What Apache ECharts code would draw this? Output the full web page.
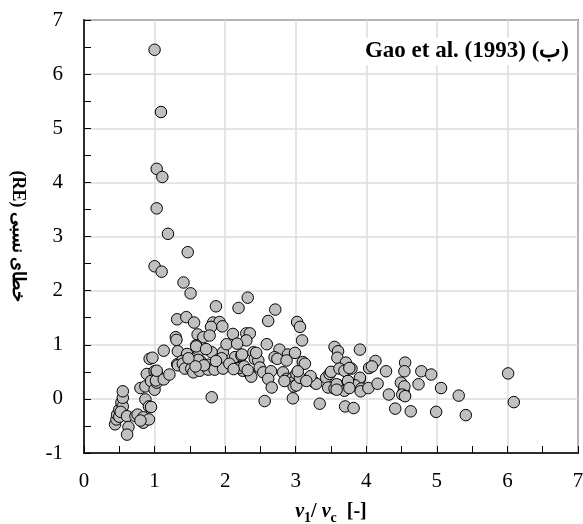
<!DOCTYPE html>
<html>
<head>
<meta charset="utf-8">
<script src="https://cdn.jsdelivr.net/npm/echarts@6/dist/echarts.min.js"></script>
<style>
  html, body { margin: 0; padding: 0; background: #fff; }
  #chart { width: 583px; height: 524px; }
</style>
</head>
<body>
<div id="chart"></div>
<script>
// v1/vc vs relative error, grouped by x range
const pointsBelow12 = [
  [0.44, -0.47], [0.46, -0.38], [0.47, -0.29], [0.50, -0.20], [0.50, -0.33], [0.53, -0.07],
  [0.55, -0.14], [0.55, 0.02], [0.55, 0.14], [0.52, -0.24], [0.61, -0.32], [0.63, -0.52],
  [0.61, -0.66], [0.73, -0.32], [0.76, -0.29], [0.84, -0.34], [0.84, -0.44], [0.92, -0.38],
  [0.80, -0.40], [0.87, -0.01], [0.92, -0.14], [0.95, -0.15], [0.80, 0.20], [0.87, 0.23],
  [0.89, 0.46], [0.93, 0.74], [0.95, 0.33], [0.97, 0.76], [1.00, 0.17], [1.00, 0.51],
  [1.03, 0.50], [1.03, 0.30], [1.02, 0.34], [1.03, 0.52], [1.13, 0.36], [1.13, 0.89],
  [1.00, 6.45], [1.09, 5.30], [1.03, 4.25], [1.11, 4.10], [1.03, 3.52], [1.19, 3.05],
  [1.00, 2.45], [1.10, 2.35], [1.21, 0.45]
];
const points12to2 = [
  [1.47, 2.71], [1.41, 2.15], [1.51, 1.95], [1.87, 1.71], [1.32, 1.47], [1.45, 1.51],
  [1.56, 1.41], [1.83, 1.41], [1.92, 1.42], [1.96, 1.34], [1.80, 1.33], [1.61, 1.19],
  [1.69, 1.14], [1.78, 1.17], [1.30, 1.14], [1.31, 1.09], [1.59, 0.99], [1.33, 0.88],
  [1.46, 0.83], [1.63, 0.89], [1.81, 0.86], [1.92, 0.74], [1.97, 0.86], [1.95, 0.75],
  [1.65, 0.70], [1.76, 0.63], [1.32, 0.64], [1.39, 0.70], [1.33, 0.62], [1.40, 0.65],
  [1.43, 0.56], [1.52, 0.56], [1.55, 0.49], [1.64, 0.52], [1.76, 0.54], [1.85, 0.54],
  [1.97, 0.56], [1.81, 0.03], [1.59, 0.97], [1.62, 0.72], [1.70, 0.62], [1.48, 0.75],
  [1.73, 0.92], [1.58, 0.60], [1.87, 0.70]
];
const points2to3 = [
  [2.32, 1.87], [2.19, 1.68], [2.71, 1.65], [2.61, 1.44], [2.11, 1.20], [2.30, 1.21],
  [2.35, 1.21], [2.30, 1.08], [2.02, 1.01], [2.17, 1.02], [2.59, 1.01], [2.14, 0.77],
  [2.23, 0.80], [2.40, 0.86], [2.42, 0.74], [2.24, 0.82], [2.77, 0.91], [2.89, 0.82],
  [2.99, 0.85], [2.70, 0.77], [2.74, 0.74], [2.87, 0.71], [2.47, 0.71], [2.44, 0.85],
  [2.49, 0.58], [2.54, 0.49], [2.65, 0.51], [2.61, 0.37], [2.66, 0.21], [2.82, 0.49],
  [2.87, 0.37], [2.92, 0.34], [2.96, 0.39], [2.99, 0.34], [2.21, 0.59], [2.25, 0.52],
  [2.35, 0.46], [2.37, 0.41], [2.20, 0.57], [2.27, 0.60], [2.32, 0.53], [2.56, -0.04],
  [2.96, 0.01], [2.97, 0.23], [2.84, 0.33], [2.06, 0.65], [2.12, 0.55]
];
const points3to4 = [
  [3.02, 1.42], [3.06, 1.33], [3.09, 1.08], [3.55, 0.96], [3.60, 0.88], [3.91, 0.91],
  [3.10, 0.68], [3.13, 0.65], [3.59, 0.76], [3.71, 0.67], [3.01, 0.46], [3.01, 0.25],
  [3.06, 0.39], [3.03, 0.51], [3.20, 0.37], [3.26, 0.31], [3.29, 0.28], [3.21, 0.42],
  [3.43, 0.39], [3.48, 0.46], [3.50, 0.50], [3.62, 0.56], [3.69, 0.52], [3.79, 0.56],
  [3.76, 0.57], [3.91, 0.37], [3.91, 0.39], [3.46, 0.21], [3.55, 0.19], [3.60, 0.25],
  [3.69, 0.15], [3.84, 0.25], [3.93, 0.19], [3.92, 0.14], [3.58, 0.27], [3.58, 0.17],
  [3.74, 0.33], [3.76, 0.20], [3.34, -0.09], [3.70, -0.14], [3.82, -0.17], [3.15, 0.33]
];
const pointsAbove4 = [
  [4.13, 0.70], [4.55, 0.67], [4.04, 0.57], [4.08, 0.60], [4.03, 0.20], [4.16, 0.28],
  [4.28, 0.51], [4.32, 0.08], [4.49, 0.30], [4.53, 0.14], [4.54, 0.51], [4.54, 0.23],
  [4.51, 0.08], [4.55, 0.05], [4.74, 0.27], [4.78, 0.51], [4.92, 0.45], [5.06, 0.20],
  [5.31, 0.06], [6.01, 0.47], [6.09, -0.06], [5.41, -0.30], [4.99, -0.24], [4.63, -0.23],
  [4.41, -0.18]
];

const xTicks = [0, 1, 2, 3, 4, 5, 6, 7];
const yTicks = [-1, 0, 1, 2, 3, 4, 5, 6, 7];
const annotation = "Gao et al. (1993) (ب)";
const yTitle = "\u2067خطای نسبی (RE)\u2069";

const allPoints = [].concat(pointsBelow12, points12to2, points2to3, points3to4, pointsAbove4);

const FONT = "Liberation Serif";

function axisBase(ticks) {
  return {
    type: "value",
    min: ticks[0],
    max: ticks[ticks.length - 1],
    interval: 1,
    axisLine: { show: true, onZero: false, lineStyle: { color: "#000", width: 1.5 } },
    axisTick: { show: true, inside: true, length: 7, lineStyle: { color: "#000", width: 1 } },
    minorTick: { show: true, splitNumber: 2, length: 7, lineStyle: { color: "#000", width: 1 } },
    splitLine: { show: true, lineStyle: { color: "#dcdcdc", width: 1.5 } },
    axisLabel: { color: "#000", fontFamily: FONT, fontSize: 21 },
  };
}

const chart = echarts.init(document.getElementById("chart"), null, { renderer: "canvas" });

const xAxis = axisBase(xTicks);
xAxis.axisLabel.margin = 18;
xAxis.name = "{i|v}{s|1}{n|/ }{i|v}{s|c}{n|  [-]}";
xAxis.nameLocation = "middle";
xAxis.nameGap = 46;
xAxis.nameTextStyle = {
  rich: {
    i: { fontFamily: FONT, fontStyle: "italic", fontWeight: "bold", fontSize: 20, lineHeight: 26, color: "#000" },
    n: { fontFamily: FONT, fontWeight: "bold", fontSize: 20, lineHeight: 26, color: "#000" },
    s: { fontFamily: FONT, fontWeight: "bold", fontSize: 14, lineHeight: 26, verticalAlign: "bottom", color: "#000" },
  },
};

const yAxis = axisBase(yTicks);
yAxis.axisLabel.margin = 21;
yAxis.name = yTitle;
yAxis.nameLocation = "middle";
yAxis.nameRotate = -90;
yAxis.nameGap = 57;
yAxis.nameTextStyle = { fontFamily: FONT, fontWeight: "bold", fontSize: 18, color: "#000" };

chart.setOption({
  animation: false,
  backgroundColor: "#fff",
  grid: {
    left: 84, right: 5, top: 20, bottom: 71,
    outerBoundsMode: "none",
    show: true, borderColor: "#000", borderWidth: 1.5,
  },
  xAxis: xAxis,
  yAxis: yAxis,
  graphic: [
    {
      type: "text",
      right: 10,
      top: 38,
      z: 100,
      style: {
        text: annotation,
        font: "bold 23px '" + FONT + "'",
        fill: "#000",
        backgroundColor: "#fff",
        padding: [2, 4, 2, 6],
      },
    },
  ],
  series: [
    {
      type: "scatter",
      data: allPoints,
      symbol: "circle",
      symbolSize: 11.5,
      itemStyle: { color: "#c0c0c0", borderColor: "#000", borderWidth: 1, opacity: 1 },
    },
  ],
});
</script>
</body>
</html>
